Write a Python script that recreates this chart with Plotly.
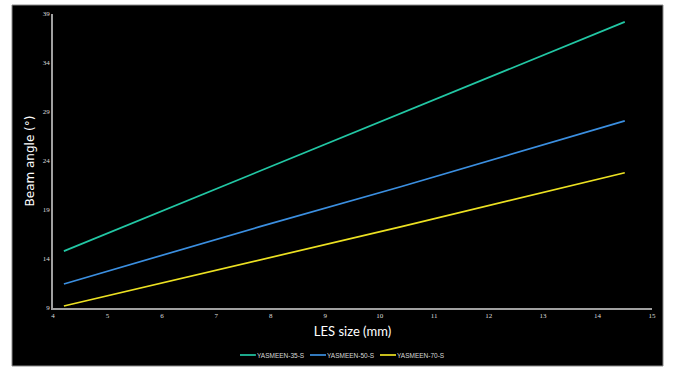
import plotly.graph_objects as go

les_size = [4.2, 7.8, 10.4, 14.5]
yasmeen_35 = [14.8, 23.0, 28.9, 38.2]
yasmeen_50 = [11.45, 17.3, 21.4, 28.1]
yasmeen_70 = [9.2, 13.9, 17.3, 22.8]
series_names = ["YASMEEN-35-S", "YASMEEN-50-S", "YASMEEN-70-S"]
colors = ["#22c7a4", "#3b8fe0", "#ece122"]
x_ticks = list(range(4, 16))
y_ticks = [9, 14, 19, 24, 29, 34, 39]

fig = go.Figure()
for name, ys, c in zip(series_names, [yasmeen_35, yasmeen_50, yasmeen_70], colors):
    fig.add_trace(go.Scatter(x=les_size, y=ys, mode="lines", name=name,
                             line=dict(color=c, width=1.7), showlegend=False))

L, R, T, B = 53, 27, 14, 66
W, H = 679, 374
pw, ph = W - L - R, H - T - B

def px2x(p):
    return (p - L) / pw

def py2y(p):
    return (H - B - p) / ph

fig.add_shape(type="rect", xref="paper", yref="paper", layer="below",
              x0=px2x(12), x1=px2x(663), y0=py2y(366), y1=py2y(5),
              fillcolor="black", line=dict(color="#8a8a8a", width=1))

# manual legend
legend_starts = [240, 310, 380]
leg_y = 355
for name, c, x0 in zip(series_names, colors, legend_starts):
    fig.add_shape(type="line", xref="paper", yref="paper",
                  x0=px2x(x0), x1=px2x(x0 + 16), y0=py2y(leg_y), y1=py2y(leg_y),
                  line=dict(color=c, width=1.7))
    fig.add_annotation(xref="paper", yref="paper", x=px2x(x0 + 16), y=py2y(leg_y),
                       text=name, showarrow=False, xanchor="left", yanchor="middle",
                       xshift=-1, font=dict(size=6.5, color="#d8d8d8", family="Liberation Sans"))

fig.update_layout(
    width=W, height=H,
    margin=dict(l=L, r=R, t=T, b=B, autoexpand=False),
    paper_bgcolor="white", plot_bgcolor="black",
    font=dict(family="Liberation Sans, Arial", color="white"),
    showlegend=False,
    xaxis=dict(range=[4, 15], tickvals=x_ticks, showgrid=False, zeroline=False,
               showline=True, linecolor="#a0a0a0", linewidth=1.5, automargin=False,
               tickfont=dict(size=7, color="#dddddd", family="Liberation Serif"), ticks="", ticklen=0,
               title=dict(text="LES size (mm)", font=dict(size=13, color="white",
                          family="Lato, Liberation Sans"), standoff=8)),
    yaxis=dict(range=[9, 39], tickvals=y_ticks, showgrid=False, zeroline=False,
               showline=True, linecolor="#a0a0a0", linewidth=1.5, automargin=False,
               tickfont=dict(size=7, color="#dddddd", family="Liberation Serif"), ticks="", ticklen=0,
               title=dict(text="Beam angle (°)", font=dict(size=12, color="white",
                          family="DejaVu Sans, Liberation Sans"), standoff=6)),
)

fig.write_html("out.html", config={"displayModeBar": False},
               post_script="document.body.style.margin='0px';document.body.style.overflow='hidden';")
